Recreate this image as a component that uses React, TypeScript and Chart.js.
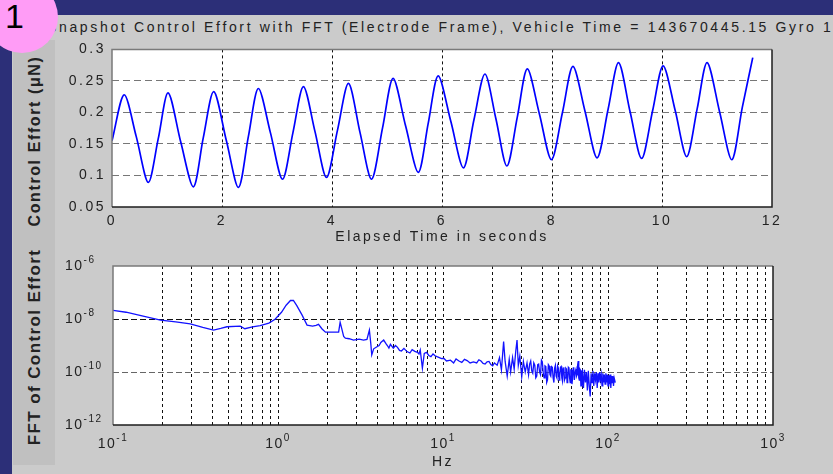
import React, { useEffect, useRef } from 'react';
import { Chart, registerables } from 'chart.js';

Chart.register(...registerables);

const FONT = '"Liberation Sans", Arial, Helvetica, sans-serif';

const TITLE = 'Snapshot Control Effort with FFT (Electrode Frame), Vehicle Time = 143670445.15 Gyro 1';
const TOP_Y_LABEL = 'Control Effort (\u03bcN)';
const BOTTOM_Y_LABEL = 'FFT of Control Effort';
const TOP_X_LABEL = 'Elapsed Time in seconds';
const BOTTOM_X_LABEL = 'Hz';
const BADGE = '1';

// Top panel: control effort time series
const timeS = [0, 0.22, 0.44, 0.66, 0.84, 1.02, 1.25, 1.48, 1.66, 1.85, 2.08, 2.30, 2.48, 2.66, 2.88, 3.10, 3.29, 3.48, 3.69, 3.90, 4.10, 4.30, 4.51, 4.72, 4.92, 5.11, 5.34, 5.57, 5.75, 5.93, 6.16, 6.39, 6.58, 6.78, 6.98, 7.18, 7.37, 7.55, 7.77, 7.99, 8.19, 8.38, 8.60, 8.82, 9.02, 9.21, 9.42, 9.63, 9.83, 10.02, 10.24, 10.45, 10.64, 10.82, 11.05, 11.27, 11.46, 11.65];
const effortUN = [0.155, 0.228, 0.162, 0.089, 0.158, 0.231, 0.153, 0.082, 0.160, 0.233, 0.155, 0.081, 0.162, 0.238, 0.168, 0.094, 0.168, 0.241, 0.170, 0.097, 0.172, 0.246, 0.168, 0.094, 0.176, 0.254, 0.178, 0.105, 0.183, 0.258, 0.186, 0.112, 0.188, 0.261, 0.190, 0.115, 0.193, 0.269, 0.198, 0.125, 0.200, 0.273, 0.202, 0.128, 0.205, 0.279, 0.201, 0.127, 0.203, 0.274, 0.203, 0.130, 0.206, 0.279, 0.200, 0.125, 0.208, 0.287];
const timeTicks = [0, 2, 4, 6, 8, 10, 12];
const effortTicks = [0.05, 0.1, 0.15, 0.2, 0.25, 0.3];

// Bottom panel: FFT magnitude
const fftHz = [
  0.1, 0.12, 0.15, 0.194, 0.24, 0.294, 0.35, 0.407, 0.45, 0.49,
  0.59, 0.63, 0.7, 0.78, 0.88, 0.96, 1.05, 1.12, 1.19, 1.24,
  1.3, 1.4, 1.5, 1.62, 1.7, 1.76, 1.85, 1.94, 2.1, 2.33,
  2.38, 2.43, 2.5, 2.56, 2.7, 2.87, 3.1, 3.3, 3.46, 3.58,
  3.65, 3.7, 3.8, 3.98, 4.1, 4.2, 4.37, 4.5, 4.6, 4.7,
  4.8, 5.0, 5.15, 5.3, 5.45, 5.6, 5.8, 6.05, 6.3, 6.5,
  6.75, 7.0, 7.15, 7.28, 7.5, 7.7, 7.95, 8.2, 8.45, 8.7,
  8.95, 9.2, 9.5, 9.8, 10.1, 10.5, 11.1, 11.6, 12, 12.5,
  13, 13.5, 14, 14.6, 15.3, 16, 16.5, 17, 17.5, 18,
  18.5, 19, 19.5, 20, 20.5, 21.3, 22, 22.6, 23.3, 23.8,
  24.5, 25.2, 25.7, 26.4, 27, 27.6, 28.1, 28.6, 29.2, 30,
  30.7, 31.5, 32.3,
  33, 33.5, 34, 34.5, 35, 35.5, 36, 36.5, 37, 37.5,
  38, 38.5, 39, 39.5, 40, 40.5, 41, 41.5, 42, 42.5,
  43, 43.5, 44, 44.5, 45, 45.5, 46, 46.5, 47, 47.5,
  48, 48.5, 49, 49.5, 50, 50.5, 51, 51.5, 52, 52.5,
  53, 53.5, 54, 54.5, 55, 55.5, 56, 56.5, 57, 57.5,
  58, 58.5, 59, 59.5, 60, 60.5, 61, 61.5, 62, 62.5,
  63, 63.5, 64, 64.5, 65, 65.5, 66, 66.5, 67, 67.5,
  68, 68.5, 69, 69.5,
  70, 71, 72, 73, 74, 75, 76, 77, 78, 79,
  80, 81, 82, 83, 84, 85, 86, 87, 88, 89,
  90, 91, 92, 93, 94, 95, 96, 97, 98, 99,
  100, 101, 102, 103, 104, 105, 106, 107, 108, 109, 110.7,
];
const fftAmp = [
  2.1e-8, 1.8e-8, 1.3e-8, 9.1e-9, 7.8e-9, 6.5e-9, 4.8e-9, 3.8e-9, 4.4e-9, 5.1e-9,
  5.4e-9, 4.3e-9, 5.0e-9, 5.6e-9, 7.0e-9, 9.8e-9, 1.8e-8, 3.3e-8, 5.0e-8, 5.0e-8,
  3.2e-8, 1.4e-8, 5.9e-9, 5.4e-9, 5.8e-9, 6.3e-9, 4.2e-9, 3.2e-9, 3.2e-9, 3.2e-9,
  7.5e-9, 4.5e-9, 2.2e-9, 1.9e-9, 1.8e-9, 1.6e-9, 1.75e-9, 1.6e-9, 1.7e-9, 3.8e-9,
  1.2e-9, 4.4e-10, 7.5e-10, 9e-10, 1.0e-9, 1.3e-9, 1.6e-9, 1.2e-9, 1.0e-9, 8e-10,
  1.1e-9, 7.9e-10, 1.0e-9, 8.5e-10, 6.5e-10, 6.2e-10, 7.8e-10, 5.9e-10, 5.2e-10, 7.0e-10,
  6.0e-10, 5.5e-10, 4.8e-10, 6.8e-10, 1.4e-10, 5.0e-10, 5.5e-10, 4.2e-10, 3.8e-10, 4.8e-10,
  4.1e-10, 3.8e-10, 3.5e-10, 3.2e-10, 3.3e-10, 2.6e-10, 2.8e-10, 2.2e-10, 3.1e-10, 2.6e-10,
  2.3e-10, 3.0e-10, 2.7e-10, 2.2e-10, 2.4e-10, 2.2e-10, 2.9e-10, 2.6e-10, 2.1e-10, 2.0e-10,
  2.4e-10, 2.5e-10, 1.9e-10, 1.7e-10, 2.2e-10, 1.8e-10, 3.5e-10, 1.2e-10, 1.4e-9, 2.5e-10,
  7e-11, 3.0e-10, 1.0e-10, 3.5e-10, 1.3e-10, 6.0e-10, 1.6e-9, 1.8e-10, 4.0e-10, 6.6e-11,
  2.5e-10, 1.0e-10, 2.2e-10,
  8e-11, 2.0e-10, 2.6e-10, 1.1e-10, 9e-11, 2.2e-10, 1.8e-10, 6e-11, 7e-11, 1.9e-10,
  2.0e-10, 1.0e-10, 8e-11, 2.8e-10, 2.4e-10, 9e-11, 6e-11, 1.7e-10, 1.6e-10, 4e-11,
  5e-11, 1.9e-10, 1.7e-10, 8e-11, 7e-11, 1.6e-10, 1.5e-10, 6e-11, 4e-11, 1.4e-10,
  1.8e-10, 7e-11, 6e-11, 1.7e-10, 1.4e-10, 5e-11, 7e-11, 1.5e-10, 1.6e-10, 6e-11,
  4.5e-11, 1.3e-10, 1.5e-10, 5e-11, 6e-11, 1.4e-10, 1.3e-10, 4e-11, 5e-11, 1.5e-10,
  1.4e-10, 6e-11, 4e-11, 1.2e-10, 1.2e-10, 3.5e-11, 6e-11, 1.4e-10, 1.5e-10, 5e-11,
  5e-11, 1.1e-10, 1.3e-10, 7e-11, 8e-11, 1.9e-10, 2.6e-10, 6e-11, 5e-11, 1.3e-10,
  1.2e-10, 3e-11, 3e-11, 1.0e-10,
  1.1e-10, 2.5e-11, 1.2e-10, 4e-11, 1.0e-10, 2e-11, 1.1e-10, 3e-11, 1.2e-11, 9e-11,
  4e-11, 1.1e-10, 3e-11, 9e-11, 5e-11, 1.0e-10, 2.5e-11, 9e-11, 4e-11, 1.0e-10,
  5e-11, 8e-11, 3e-11, 9e-11, 4e-11, 8e-11, 3.5e-11, 9e-11, 4e-11, 8e-11,
  3e-11, 7.5e-11, 3.5e-11, 8e-11, 2.5e-11, 7e-11, 4e-11, 7e-11, 3e-11, 6e-11, 4e-11,
];
const hzTickExps = [-1, 0, 1, 2, 3];
const ampTickExps = [-12, -10, -8, -6];

const near = (a: number, b: number) => Math.abs(a - b) < 1e-9;
const expOf = (v: number) => Math.round(Math.log10(v));

function drawFrame(chart: any) {
  const { ctx, chartArea: a } = chart;
  ctx.save();
  ctx.setLineDash([]);
  ctx.lineWidth = 1.5;
  ctx.strokeStyle = '#7a7a7a';
  ctx.beginPath();
  ctx.moveTo(a.left, a.bottom);
  ctx.lineTo(a.left, a.top);
  ctx.lineTo(a.right, a.top);
  ctx.stroke();
  ctx.strokeStyle = '#1e1e1e';
  ctx.beginPath();
  ctx.moveTo(a.right, a.top);
  ctx.lineTo(a.right, a.bottom);
  ctx.lineTo(a.left, a.bottom);
  ctx.stroke();
  ctx.restore();
}

const panelPlugin = {
  id: 'panel',
  beforeDraw(chart: any) {
    const { ctx, chartArea: a } = chart;
    ctx.save();
    ctx.fillStyle = '#ffffff';
    ctx.fillRect(a.left, a.top, a.right - a.left, a.bottom - a.top);
    ctx.restore();
    ctx.letterSpacing = '2.5px';
  },
  afterDraw(chart: any) {
    drawFrame(chart);
  },
};

function drawPow(ctx: any, exp: number, x: number, yMid: number, align: 'center' | 'left') {
  ctx.font = `14px ${FONT}`;
  const base = '10';
  const w1 = ctx.measureText(base).width;
  ctx.font = `10px ${FONT}`;
  const es = String(exp);
  const w2 = ctx.measureText(es).width;
  const start = align === 'center' ? x - (w1 + w2) / 2 : x;
  ctx.textBaseline = 'middle';
  ctx.textAlign = 'left';
  ctx.font = `14px ${FONT}`;
  ctx.fillText(base, start, yMid);
  ctx.font = `10px ${FONT}`;
  ctx.fillText(es, start + w1, yMid - 6);
}

const powLabelPlugin = {
  id: 'powLabels',
  afterDraw(chart: any) {
    const { ctx, chartArea: a } = chart;
    const xs = chart.scales.x;
    const ys = chart.scales.y;
    ctx.save();
    ctx.fillStyle = '#222';
    ctx.letterSpacing = '1.5px';
    hzTickExps.forEach((e) => drawPow(ctx, e, xs.getPixelForValue(Math.pow(10, e)), a.bottom + 19, 'center'));
    ampTickExps.forEach((e) => drawPow(ctx, e, 5, ys.getPixelForValue(Math.pow(10, e)), 'left'));
    ctx.restore();
  },
};

export default function App() {
  const topRef = useRef<HTMLCanvasElement>(null);
  const botRef = useRef<HTMLCanvasElement>(null);

  useEffect(() => {
    Chart.defaults.font.family = FONT;
    const tickFont = { family: FONT, size: 14 };

    const top = new Chart(topRef.current as HTMLCanvasElement, {
      type: 'line',
      data: {
        datasets: [
          {
            data: timeS.map((t, i) => ({ x: t, y: effortUN[i] })),
            borderColor: '#0000ff',
            borderWidth: 1.7,
            pointRadius: 0,
            tension: 0.3,
            fill: false,
          },
        ],
      },
      options: {
        animation: false,
        responsive: false,
        layout: { padding: { top: 10, right: 28, left: 0, bottom: 0 } },
        plugins: { legend: { display: false }, tooltip: { enabled: false } },
        scales: {
          x: {
            type: 'linear',
            min: 0,
            max: 12,
            afterBuildTicks: (s: any) => { s.ticks = timeTicks.map((v) => ({ value: v })); },
            afterFit: (s: any) => { s.height = 43; },
            ticks: { font: tickFont, color: '#222', padding: 6, maxRotation: 0, autoSkip: false, callback: (v: any) => String(v) },
            grid: {
              drawTicks: false,
              lineWidth: 1,
              color: (c: any) => (c.tick && (near(c.tick.value, 0) || near(c.tick.value, 12)) ? 'rgba(0,0,0,0)' : '#111'),
            },
            border: { display: false, dash: [3, 3] },
            title: { display: true, text: TOP_X_LABEL, color: '#222', font: { family: FONT, size: 14 }, padding: { top: 0, bottom: 4 } },
          },
          y: {
            type: 'linear',
            min: 0.05,
            max: 0.3,
            afterBuildTicks: (s: any) => { s.ticks = effortTicks.map((v) => ({ value: v })); },
            afterFit: (s: any) => { s.width = 52; },
            ticks: { font: tickFont, color: '#222', padding: 6, autoSkip: false, callback: (v: any) => String(Number(Number(v).toFixed(2))) },
            grid: {
              drawTicks: false,
              lineWidth: 1,
              color: (c: any) => (c.tick && (near(c.tick.value, 0.05) || near(c.tick.value, 0.3)) ? 'rgba(0,0,0,0)' : '#777'),
            },
            border: { display: false, dash: [7, 4] },
          },
        },
      } as any,
      plugins: [panelPlugin],
    });

    const bot = new Chart(botRef.current as HTMLCanvasElement, {
      type: 'line',
      data: {
        datasets: [
          {
            data: fftHz.map((f, i) => ({ x: f, y: fftAmp[i] })),
            borderColor: '#1212ff',
            borderWidth: 1.3,
            pointRadius: 0,
            tension: 0,
            fill: false,
          },
        ],
      },
      options: {
        animation: false,
        responsive: false,
        layout: { padding: { top: 11, right: 27, left: 0, bottom: 0 } },
        plugins: { legend: { display: false }, tooltip: { enabled: false } },
        scales: {
          x: {
            type: 'logarithmic',
            min: Math.pow(10, hzTickExps[0]),
            max: Math.pow(10, hzTickExps[hzTickExps.length - 1]),
            afterBuildTicks: (s: any) => {
              const t: any[] = [];
              for (let k = 0; k < hzTickExps.length - 1; k++) {
                for (let m = 1; m <= 9; m++) t.push({ value: m * Math.pow(10, hzTickExps[k]) });
              }
              t.push({ value: Math.pow(10, hzTickExps[hzTickExps.length - 1]) });
              s.ticks = t;
            },
            afterFit: (s: any) => { s.height = 49; },
            ticks: { display: false, autoSkip: false },
            grid: {
              drawTicks: false,
              lineWidth: 1,
              color: (c: any) => {
                if (!c.tick) return '#111';
                const e = c.tick.value;
                return near(e, 0.1) || Math.abs(e - 1000) < 1e-6 ? 'rgba(0,0,0,0)' : '#111';
              },
            },
            border: { display: false, dash: [3, 3] },
            title: { display: true, text: BOTTOM_X_LABEL, color: '#222', font: { family: FONT, size: 14 }, padding: { top: 0, bottom: 3 } },
          },
          y: {
            type: 'logarithmic',
            min: Math.pow(10, ampTickExps[0]),
            max: Math.pow(10, ampTickExps[ampTickExps.length - 1]),
            afterBuildTicks: (s: any) => { s.ticks = ampTickExps.map((e) => ({ value: Math.pow(10, e) })); },
            afterFit: (s: any) => { s.width = 53; },
            ticks: { display: false, autoSkip: false },
            grid: {
              drawTicks: false,
              lineWidth: 1,
              color: (c: any) => {
                if (!c.tick) return 'rgba(0,0,0,0)';
                const e = expOf(c.tick.value);
                if (e === -8) return '#111';
                if (e === -10) return '#666';
                return 'rgba(0,0,0,0)';
              },
            },
            border: { display: false, dash: [6, 3] },
          },
        },
      } as any,
      plugins: [panelPlugin, powLabelPlugin],
    });

    return () => {
      top.destroy();
      bot.destroy();
    };
  }, []);

  return (
    <div
      style={{
        position: 'fixed',
        left: 0,
        top: 0,
        width: 833,
        height: 474,
        overflow: 'hidden',
        background: '#2c2f78',
        fontFamily: FONT,
      }}
    >
      <div style={{ position: 'absolute', left: 12, top: 15, right: 0, bottom: 0, background: '#cbcbcb' }} />
      <div style={{ position: 'absolute', left: 13, top: 40, width: 42, height: 425, background: '#c0c0c0' }} />
      <div
        style={{
          position: 'absolute',
          left: 47,
          top: 19,
          fontSize: 14,
          lineHeight: '16px',
          letterSpacing: '2.65px',
          color: '#222',
          whiteSpace: 'nowrap',
        }}
      >
        {TITLE}
      </div>
      <div
        style={{
          position: 'absolute',
          left: 35,
          top: 141,
          transform: 'translate(-50%, -50%) rotate(-90deg)',
          fontSize: 16,
          fontWeight: 'bold',
          letterSpacing: '1.6px',
          color: '#222',
          whiteSpace: 'nowrap',
        }}
      >
        {TOP_Y_LABEL}
      </div>
      <div
        style={{
          position: 'absolute',
          left: 35,
          top: 347,
          transform: 'translate(-50%, -50%) rotate(-90deg)',
          fontSize: 17,
          fontWeight: 'bold',
          letterSpacing: '1.4px',
          color: '#222',
          whiteSpace: 'nowrap',
        }}
      >
        {BOTTOM_Y_LABEL}
      </div>
      <canvas ref={topRef} width={740} height={215} style={{ position: 'absolute', left: 60, top: 35 }} />
      <canvas ref={botRef} width={740} height={219} style={{ position: 'absolute', left: 60, top: 255 }} />
      <div
        style={{
          position: 'absolute',
          left: -14,
          top: -19,
          width: 72,
          height: 72,
          borderRadius: '50%',
          background: '#ff9cf6',
        }}
      />
      <div
        style={{
          position: 'absolute',
          left: 5,
          top: -1,
          fontSize: 34,
          lineHeight: '34px',
          color: '#000',
        }}
      >
        {BADGE}
      </div>
    </div>
  );
}
